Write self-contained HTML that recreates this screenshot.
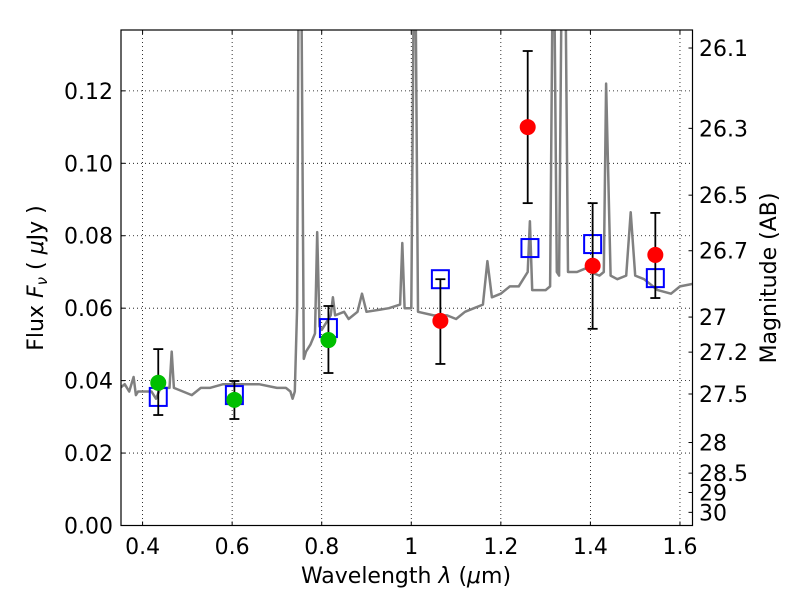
<!DOCTYPE html>
<html><head><meta charset="utf-8"><style>
body{margin:0;background:#fff}
svg text{font-family:"DejaVu Sans","Liberation Sans",sans-serif;font-size:22px;fill:#000}
</style></head><body>
<svg id="chart" width="800" height="600" xmlns="http://www.w3.org/2000/svg">
<defs><clipPath id="clip"><rect x="121" y="30" width="571.5" height="495.5"/></clipPath></defs>
<g id="grid"></g>
<g id="spec" clip-path="url(#clip)"></g>
<g id="marks"></g>
<rect x="121" y="30" width="571.5" height="495.5" fill="none" stroke="#000" stroke-width="1.2"/>
<g id="axes"></g>
<text x="406" y="583" text-anchor="middle">Wavelength  <tspan font-style="italic">λ</tspan> (<tspan font-style="italic">μ</tspan>m)</text>
<text transform="translate(43,278) rotate(-90)" text-anchor="middle">Flux  <tspan font-style="italic">F</tspan><tspan font-style="italic" font-size="15" dy="4">ν</tspan><tspan dy="-4">  ( </tspan><tspan font-style="italic">μ</tspan>Jy )</text>
<text transform="translate(776,278) rotate(-90)" text-anchor="middle">Magnitude (AB)</text>
</svg>
<script>
const xTicks=[0.4,0.6,0.8,1.0,1.2,1.4,1.6];
const xTickLabels=["0.4","0.6","0.8","1","1.2","1.4","1.6"];
const yTicks=[0,0.02,0.04,0.06,0.08,0.10,0.12];
const yTickLabels=["0.00","0.02","0.04","0.06","0.08","0.10","0.12"];
const magTicks=[26.1,26.3,26.5,26.7,27,27.2,27.5,28,28.5,29,30];
const specWave=[0.35,0.36,0.37,0.38,0.385,0.39,0.40,0.42,0.43,0.44,0.46,0.465,0.47,0.49,0.51,0.53,0.55,0.58,0.62,0.66,0.70,0.72,0.73,0.735,0.74,0.745,0.748,0.755,0.76,0.765,0.775,0.785,0.79,0.795,0.80,0.81,0.82,0.825,0.83,0.85,0.86,0.87,0.88,0.89,0.90,0.95,0.975,0.98,0.985,1.0,1.005,1.01,1.015,1.05,1.08,1.10,1.12,1.14,1.16,1.17,1.18,1.2,1.22,1.24,1.25,1.26,1.265,1.27,1.3,1.31,1.315,1.32,1.325,1.33,1.335,1.345,1.35,1.37,1.39,1.40,1.42,1.43,1.435,1.445,1.46,1.48,1.49,1.50,1.52,1.55,1.58,1.60,1.62,1.64];
const specFlux=[0.038,0.039,0.037,0.041,0.036,0.037,0.037,0.037,0.035,0.038,0.038,0.048,0.038,0.037,0.036,0.038,0.038,0.039,0.039,0.039,0.038,0.038,0.037,0.035,0.037,0.06,0.14,0.14,0.046,0.048,0.05,0.053,0.081,0.055,0.054,0.056,0.058,0.063,0.058,0.059,0.057,0.058,0.059,0.064,0.059,0.060,0.061,0.078,0.060,0.060,0.14,0.14,0.059,0.058,0.058,0.057,0.059,0.060,0.061,0.073,0.063,0.064,0.066,0.066,0.068,0.070,0.084,0.065,0.065,0.066,0.14,0.14,0.07,0.069,0.14,0.14,0.070,0.070,0.071,0.070,0.069,0.070,0.122,0.069,0.068,0.069,0.0865,0.069,0.068,0.065,0.064,0.066,0.0665,0.067];
const greenWave=[0.435,0.605,0.815];
const greenFlux=[0.0394,0.0347,0.0512];
const greenHi=[0.0487,0.0399,0.0606];
const greenLo=[0.0305,0.0294,0.0421];
const redWave=[1.065,1.26,1.405,1.545];
const redFlux=[0.0565,0.110,0.0717,0.0747];
const redHi=[0.068,0.131,0.089,0.0863];
const redLo=[0.0446,0.089,0.0543,0.0628];
const modelWave=[0.435,0.605,0.815,1.065,1.265,1.405,1.545];
const modelFlux=[0.0355,0.036,0.0545,0.068,0.0766,0.0777,0.0683];

const X0=121,X1=692.5,Y0=525.5,Y1=30,XMIN=0.3518,XMAX=1.628,YMIN=0,YMAX=0.1368;
const sx=v=>X0+(v-XMIN)/(XMAX-XMIN)*(X1-X0);
const sy=v=>Y0-(v-YMIN)/(YMAX-YMIN)*(Y0-Y1);
const NS="http://www.w3.org/2000/svg";
function mk(parent,tag,attrs){const e=document.createElementNS(NS,tag);for(const k in attrs)e.setAttribute(k,attrs[k]);document.getElementById(parent).appendChild(e);return e;}
xTicks.forEach((t,i)=>{const x=sx(t);
 let g=mk('grid','line',{x1:x,x2:x,y1:Y1,y2:Y0,stroke:'#000','stroke-dasharray':'1,3','stroke-width':0.8});
 
 
 mk('axes','line',{x1:x,x2:x,y1:Y0,y2:Y0-4,stroke:'#000'});
 mk('axes','line',{x1:x,x2:x,y1:Y1,y2:Y1+4,stroke:'#000'});
 let l=mk('axes','text',{x:x,y:554,'text-anchor':'middle'});l.textContent=xTickLabels[i];
 
 
});
yTicks.forEach((t,i)=>{const y=sy(t);
 if(t>0){let g=mk('grid','line',{x1:X0,x2:X1,y1:y,y2:y,stroke:'#000','stroke-dasharray':'1,3','stroke-width':0.8});
 
 }
 mk('axes','line',{x1:X0,x2:X0+4,y1:y,y2:y,stroke:'#000'});
 let l=mk('axes','text',{x:113,y:y+8,'text-anchor':'end'});l.textContent=yTickLabels[i];
 
 
});
magTicks.forEach(m=>{const f=Math.pow(10,(23.9-m)/2.5);const y=sy(f);
 mk('axes','line',{x1:X1,x2:X1-4,y1:y,y2:y,stroke:'#000'});
 let l=mk('axes','text',{x:699,y:y+8});l.textContent=String(m);
 
 
});
const pts=specWave.map((w,i)=>sx(w).toFixed(1)+','+sy(specFlux[i]).toFixed(1)).join(' ');
let p=mk('spec','polyline',{points:pts,fill:'none',stroke:'#808080','stroke-width':2.5,'stroke-linejoin':'round'});


function errbar(x,hi,lo){mk('marks','line',{x1:x,x2:x,y1:sy(hi),y2:sy(lo),stroke:'#000','stroke-width':1.8});
 mk('marks','line',{x1:x-5,x2:x+5,y1:sy(hi),y2:sy(hi),stroke:'#000','stroke-width':1.8});
 mk('marks','line',{x1:x-5,x2:x+5,y1:sy(lo),y2:sy(lo),stroke:'#000','stroke-width':1.8});}
modelWave.forEach((w,i)=>{let r=mk('marks','rect',{x:sx(w)-8.5,y:sy(modelFlux[i])-9,width:17,height:18,fill:'none',stroke:'#0000ff','stroke-width':2});
 
 });
greenWave.forEach((w,i)=>{const x=sx(w);errbar(x,greenHi[i],greenLo[i]);
 let c=mk('marks','circle',{cx:x,cy:sy(greenFlux[i]),r:8,fill:'#00bf00'});
 
 });
redWave.forEach((w,i)=>{const x=sx(w);errbar(x,redHi[i],redLo[i]);
 let c=mk('marks','circle',{cx:x,cy:sy(redFlux[i]),r:8,fill:'#ff0000'});
 
 });
</script>
</body></html>
